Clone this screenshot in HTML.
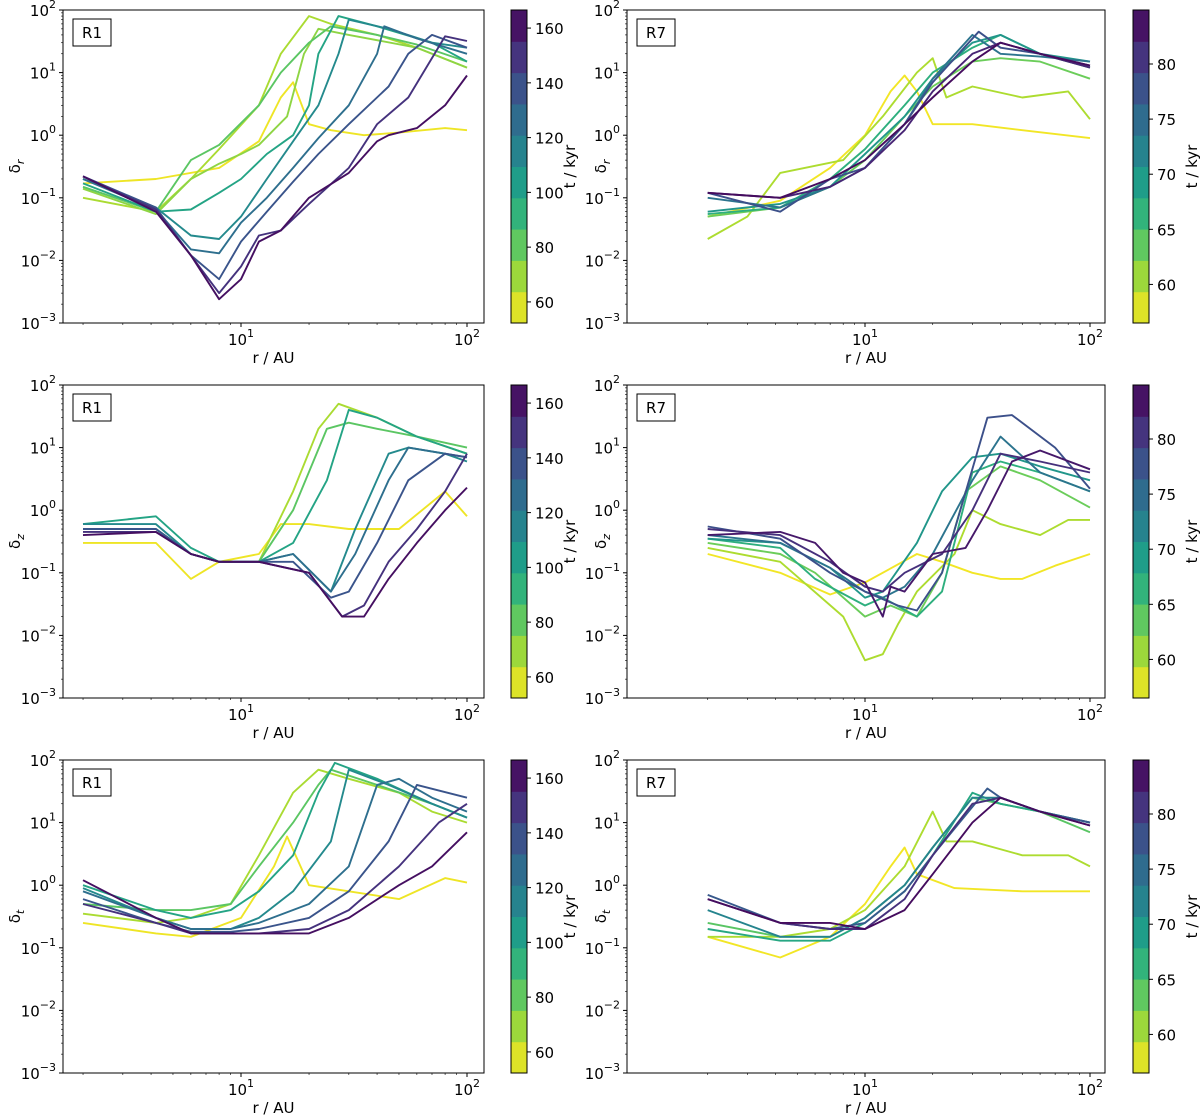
<!DOCTYPE html>
<html><head><meta charset="utf-8">
<style>
html,body{margin:0;padding:0;background:#fff;}
svg{display:block;font-family:"DejaVu Sans","Liberation Sans",sans-serif;}
</style></head>
<body>
<svg id="fig" width="1200" height="1120" viewBox="0 0 1200 1120" xmlns="http://www.w3.org/2000/svg"></svg>
<script>
// ---------- data ----------
const panelLabels = ["R1","R7","R1","R7","R1","R7"];
const yLabelSubs = ["r","r","z","z","t","t"];
const leftCbTicks = [60,80,100,120,140,160];
const rightCbTicks = [60,65,70,75,80];
const leftCbRange = [52.3,166.6];
const rightCbRange = [56.5,84.9];
const yTicks = [-3,-2,-1,0,1,2];

// panel 1: R1 delta_r
const p1 = [
 {t:55, r:[2,4.2,8,12,15,17,20,25,35,50,80,100], v:[0.17,0.2,0.3,0.8,4,7,1.5,1.2,1.0,1.1,1.3,1.2]},
 {t:67, r:[2,4.2,6,8,12,15,20,25,40,60,100], v:[0.1,0.06,0.2,0.6,3,20,80,60,40,25,12]},
 {t:72, r:[2,4.2,6,8,10,12,16,19,22,30,60,100], v:[0.14,0.055,0.2,0.35,0.5,0.7,2,20,50,40,25,12]},
 {t:82, r:[2,4.2,6,8,12,15,20,25,40,60,100], v:[0.15,0.06,0.4,0.7,3,10,30,55,40,28,15]},
 {t:100, r:[2,4.2,6,8,10,13,17,20,22,27,40,70,100], v:[0.17,0.06,0.065,0.12,0.2,0.5,1.0,3,20,80,55,30,15]},
 {t:112, r:[2,4.2,6,8,10,13,17,22,27,30,45,70,100], v:[0.2,0.07,0.025,0.022,0.05,0.2,0.8,3,20,70,50,30,25]},
 {t:125, r:[2,4.2,6,8,10,13,17,22,30,40,43,60,100], v:[0.2,0.065,0.015,0.013,0.04,0.1,0.3,0.9,3,20,55,35,20]},
 {t:137, r:[2,4.2,6,8,10,13,17,22,30,45,55,70,100], v:[0.22,0.07,0.012,0.005,0.02,0.06,0.18,0.5,1.5,6,20,40,25]},
 {t:150, r:[2,4.2,6,8,10,12,15,20,30,40,55,80,100], v:[0.22,0.065,0.012,0.003,0.008,0.025,0.03,0.08,0.3,1.5,4,38,32]},
 {t:162, r:[2,4.2,6,8,10,12,15,20,30,40,45,60,80,100], v:[0.22,0.06,0.012,0.0024,0.005,0.02,0.03,0.1,0.25,0.8,1.0,1.3,3,9]}
];
// panel 2: R7 delta_r
const p2 = [
 {t:57, r:[2,4.2,7,10,13,15,17,20,30,50,100], v:[0.05,0.09,0.3,1,5,9,5,1.5,1.5,1.2,0.9]},
 {t:60, r:[2,3,4.2,8,12,17,20,23,30,50,80,100], v:[0.022,0.05,0.25,0.4,2,10,17,4,6,4,5,1.8]},
 {t:63, r:[2,4.2,7,10,15,20,30,40,60,100], v:[0.05,0.07,0.15,0.4,2,6,15,17,15,8]},
 {t:67, r:[2,4.2,7,10,15,20,30,40,60,100], v:[0.055,0.07,0.2,0.6,3,10,25,40,20,12]},
 {t:70, r:[2,4.2,7,10,15,20,30,40,60,100], v:[0.06,0.08,0.15,0.5,2,8,30,40,20,15]},
 {t:74, r:[2,4.2,7,10,15,20,30,40,60,100], v:[0.1,0.07,0.15,0.3,1.5,8,40,20,18,15]},
 {t:78, r:[2,4.2,7,10,15,20,32,40,60,100], v:[0.12,0.06,0.2,0.3,1.5,7,45,25,20,13]},
 {t:82, r:[2,4.2,7,10,15,20,30,40,60,100], v:[0.12,0.1,0.15,0.3,1.2,5,20,30,20,12]},
 {t:84, r:[2,4.2,7,10,15,20,30,40,60,100], v:[0.12,0.1,0.2,0.4,1.5,4,15,30,20,13]}
];
// panel 3: R1 delta_z
const p3 = [
 {t:55, r:[2,4.2,6,8,12,15,20,30,50,80,100], v:[0.3,0.3,0.08,0.15,0.2,0.6,0.6,0.5,0.5,2,0.8]},
 {t:67, r:[2,4.2,6,8,12,17,22,27,40,60,100], v:[0.5,0.5,0.2,0.15,0.15,2,20,50,30,15,8]},
 {t:82, r:[2,4.2,6,8,12,17,24,30,40,60,100], v:[0.5,0.5,0.2,0.15,0.15,1,20,25,20,15,10]},
 {t:100, r:[2,4.2,6,8,12,17,24,30,40,60,100], v:[0.6,0.8,0.25,0.15,0.15,0.3,3,40,30,15,8]},
 {t:112, r:[2,4.2,6,8,12,17,25,32,45,55,80,100], v:[0.6,0.6,0.2,0.15,0.15,0.2,0.05,0.5,8,10,8,6]},
 {t:125, r:[2,4.2,6,8,12,17,25,32,45,55,80,100], v:[0.5,0.5,0.2,0.15,0.15,0.2,0.05,0.2,3,10,8,7]},
 {t:137, r:[2,4.2,6,8,12,17,25,30,40,55,80,100], v:[0.5,0.5,0.2,0.15,0.15,0.15,0.04,0.05,0.3,3,8,7]},
 {t:150, r:[2,4.2,6,8,12,20,28,35,45,60,80,100], v:[0.45,0.45,0.2,0.15,0.15,0.1,0.02,0.03,0.15,0.5,2,8]},
 {t:162, r:[2,4.2,6,8,12,20,28,35,45,60,80,100], v:[0.4,0.45,0.2,0.15,0.15,0.1,0.02,0.02,0.08,0.3,1,2.3]}
];
// panel 4: R7 delta_z
const p4 = [
 {t:57, r:[2,4.2,7,10,17,22,30,40,50,70,100], v:[0.2,0.1,0.045,0.07,0.2,0.15,0.1,0.08,0.08,0.13,0.2]},
 {t:60, r:[2,4.2,8,10,12,14,17,25,30,40,60,80,100], v:[0.25,0.15,0.02,0.004,0.005,0.015,0.05,0.2,1,0.6,0.4,0.7,0.7]},
 {t:63, r:[2,4.2,6,10,13,17,22,28,40,60,100], v:[0.3,0.2,0.1,0.02,0.03,0.02,0.1,2,5,3,1.1]},
 {t:67, r:[2,4.2,6,10,12,17,22,30,40,60,100], v:[0.35,0.25,0.08,0.03,0.04,0.02,0.05,4,6,4,2]},
 {t:70, r:[2,4.2,7,10,12,17,22,30,40,60,100], v:[0.35,0.3,0.12,0.04,0.05,0.3,2,7,8,5,3]},
 {t:74, r:[2,4.2,7,10,12,15,20,30,40,60,100], v:[0.4,0.3,0.12,0.05,0.04,0.06,0.2,3,15,4,2]},
 {t:78, r:[2,4.2,7,10,14,17,22,35,45,70,100], v:[0.55,0.35,0.1,0.05,0.03,0.025,0.1,30,33,10,2.2]},
 {t:81, r:[2,4.2,7,10,12,15,22,30,40,60,100], v:[0.5,0.4,0.15,0.06,0.05,0.1,0.2,1,8,6,4]},
 {t:83, r:[2,4.2,6,8,10,12,13,15,20,28,35,45,60,100], v:[0.4,0.45,0.3,0.1,0.07,0.02,0.06,0.05,0.2,0.25,1,6,9,4.5]}
];
// panel 5: R1 delta_t
const p5 = [
 {t:55, r:[2,4.2,6,10,14,16,20,30,50,80,100], v:[0.25,0.17,0.15,0.3,2,6,1,0.8,0.6,1.3,1.1]},
 {t:67, r:[2,4.2,6,9,12,17,22,30,50,70,100], v:[0.35,0.25,0.3,0.5,3,30,70,50,30,15,10]},
 {t:82, r:[2,4.2,6,9,12,17,22,25,40,70,100], v:[0.5,0.4,0.4,0.5,2,10,40,70,40,20,12]},
 {t:100, r:[2,4.2,6,9,12,17,22,26,40,70,100], v:[1,0.4,0.3,0.4,0.8,3,30,90,50,20,12]},
 {t:112, r:[2,4.2,6,9,12,17,25,30,45,70,100], v:[0.9,0.3,0.2,0.2,0.3,0.8,5,70,40,20,12]},
 {t:125, r:[2,4.2,6,9,12,20,30,40,50,70,100], v:[0.8,0.3,0.2,0.2,0.25,0.5,2,40,50,25,15]},
 {t:137, r:[2,4.2,6,9,12,20,30,45,60,100], v:[0.6,0.25,0.18,0.18,0.2,0.3,0.8,5,40,25]},
 {t:150, r:[2,4.2,6,9,12,20,30,50,75,100], v:[0.5,0.25,0.17,0.17,0.17,0.2,0.4,2,10,20]},
 {t:162, r:[2,4.2,6,9,12,20,30,50,70,100], v:[1.2,0.3,0.17,0.17,0.17,0.17,0.3,1,2,7]}
];
// panel 6: R7 delta_t
const p6 = [
 {t:57, r:[2,4.2,7,10,13,15,17,25,50,100], v:[0.15,0.07,0.15,0.5,2,4,1.5,0.9,0.8,0.8]},
 {t:60, r:[2,4.2,7,10,15,20,23,30,50,80,100], v:[0.15,0.15,0.2,0.4,2,15,5,5,3,3,2]},
 {t:64, r:[2,4.2,7,10,15,20,30,40,60,100], v:[0.25,0.15,0.15,0.3,1,4,25,20,15,7]},
 {t:68, r:[2,4.2,7,10,15,20,30,40,60,100], v:[0.2,0.13,0.13,0.25,0.8,3,30,20,15,10]},
 {t:72, r:[2,4.2,7,10,15,20,30,40,60,100], v:[0.4,0.15,0.15,0.3,1,4,25,25,15,10]},
 {t:77, r:[2,4.2,7,10,15,20,35,40,60,100], v:[0.7,0.25,0.2,0.25,0.8,3,35,25,15,10]},
 {t:81, r:[2,4.2,7,10,15,20,30,40,60,100], v:[0.6,0.25,0.2,0.2,0.6,3,20,25,15,9]},
 {t:84, r:[2,4.2,7,10,15,20,30,40,60,100], v:[0.6,0.25,0.25,0.2,0.4,1.5,10,25,15,9]}
];
const panelData = [p1,p2,p3,p4,p5,p6];

// ---------- rendering ----------
const NS = "http://www.w3.org/2000/svg";
const svg = document.getElementById('fig');
function mk(tag, attrs, parent){
  const e = document.createElementNS(NS, tag);
  for (const k in attrs) e.setAttribute(k, attrs[k]);
  (parent||svg).appendChild(e);
  return e;
}
const VIR = [[68,1,84],[72,40,120],[62,74,137],[49,104,142],[38,130,142],[31,158,137],[53,183,121],[110,206,88],[181,222,43],[253,231,37]];
function viridis(f){
  f=Math.max(0,Math.min(1,f));
  const p=f*(VIR.length-1), i=Math.min(VIR.length-2,Math.floor(p)), u=p-i;
  const c=VIR[i].map((a,k)=>Math.round(a+(VIR[i+1][k]-a)*u));
  return `rgb(${c[0]},${c[1]},${c[2]})`;
}
const cols = [
  {x0:63, x1:484, x10:241, dec:226, cbx:511, cbTicks:leftCbTicks, cbRange:leftCbRange, ylx:20},
  {x0:627, x1:1105, x10:865, dec:225, cbx:1133, cbTicks:rightCbTicks, cbRange:rightCbRange, ylx:606}
];
const rowsTop = [10,385,760];
const H = 313;

panelData.forEach((series, pi)=>{
  const c = cols[pi%2], top = rowsTop[Math.floor(pi/2)], bot = top+H;
  const xs = r => c.x10 + (Math.log10(r)-1)*c.dec;
  const ys = v => bot - (Math.log10(v)+3)/5*H;
  const g = mk('g', {});
  
  
  const clipId = 'clip'+pi;
  const cp = mk('clipPath', {id:clipId}, g);
  mk('rect', {x:c.x0, y:top, width:c.x1-c.x0, height:H}, cp);
  const lg = mk('g', {'clip-path':`url(#${clipId})`}, g);
  
  
  series.forEach((s, si)=>{
    const f = (s.t - c.cbRange[0])/(c.cbRange[1]-c.cbRange[0]);
    const d = s.r.map((r,i)=>(i?'L':'M')+xs(r).toFixed(1)+','+ys(s.v[i]).toFixed(1)).join(' ');
    const p = mk('path', {d, fill:'none', stroke:viridis(1-f), 'stroke-width':1.9, 'stroke-linejoin':'round'}, lg);
    
    
  });
  const fr = mk('rect', {x:c.x0, y:top, width:c.x1-c.x0, height:H, fill:'none', stroke:'#000', 'stroke-width':1}, g);
  
  
  yTicks.forEach(e=>{
    const y = bot - (e+3)/5*H;
    mk('line', {x1:c.x0-4, x2:c.x0, y1:y, y2:y, stroke:'#000'}, g);
    const t = mk('text', {x:c.x0-7, y:y+6, 'font-size':15, 'text-anchor':'end'}, g);
    
    
    t.innerHTML = `10<tspan dy="-8" font-size="11">${e<0?'\u2212'+(-e):e}</tspan>`;
    if (e<2) for (let m=2;m<10;m++){
      const ym = bot - (e+Math.log10(m)+3)/5*H;
      mk('line', {x1:c.x0-2, x2:c.x0, y1:ym, y2:ym, stroke:'#000', 'stroke-width':0.6}, g);
    }
  });
  [1,2].forEach(e=>{
    const x = xs(Math.pow(10,e));
    mk('line', {x1:x, x2:x, y1:bot, y2:bot+4, stroke:'#000'}, g);
    const t = mk('text', {x:x, y:bot+22, 'font-size':15, 'text-anchor':'middle'}, g);
    
    
    t.innerHTML = `10<tspan dy="-8" font-size="11">${e}</tspan>`;
  });
  [1,10,100].forEach(base=>{
    for (let m=2;m<10;m++){
      const x = xs(base*m);
      if (x < c.x0 || x > c.x1) continue;
      mk('line', {x1:x, x2:x, y1:bot, y2:bot+2, stroke:'#000', 'stroke-width':0.6}, g);
    }
  });
  const xl = mk('text', {x:(c.x0+c.x1)/2, y:bot+40, 'font-size':15, 'text-anchor':'middle'}, g);
  
  
  xl.textContent = 'r / AU';
  const yl = mk('text', {x:0, y:0, 'font-size':15, 'text-anchor':'middle', transform:`translate(${c.ylx},${top+H/2}) rotate(-90)`}, g);
  
  
  yl.innerHTML = `δ<tspan dy="4" font-size="11" font-style="italic">${yLabelSubs[pi]}</tspan>`;
  const lb = mk('rect', {x:c.x0+10, y:top+9, width:38, height:27, fill:'#fff', stroke:'#000', 'stroke-width':1}, g);
  
  
  const lt = mk('text', {x:c.x0+29, y:top+28, 'font-size':15, 'text-anchor':'middle'}, g);
  
  
  lt.textContent = panelLabels[pi];
  const cb = mk('g', {}, g);
  
  
  const nb = 10, bh = H/nb;
  for (let i=0;i<nb;i++){
    mk('rect', {x:c.cbx, y:bot-(i+1)*bh, width:16, height:bh+0.5, fill:viridis(1-(i+0.5)/nb)}, cb);
  }
  mk('rect', {x:c.cbx, y:top, width:16, height:H, fill:'none', stroke:'#000'}, cb);
  c.cbTicks.forEach(tv=>{
    const y = bot - (tv-c.cbRange[0])/(c.cbRange[1]-c.cbRange[0])*H;
    mk('line', {x1:c.cbx+16, x2:c.cbx+20, y1:y, y2:y, stroke:'#000'}, cb);
    const t = mk('text', {x:c.cbx+24, y:y+6, 'font-size':15}, cb);
    
    
    t.textContent = tv;
  });
  const ct = mk('text', {x:0,y:0,'font-size':15,'text-anchor':'middle', transform:`translate(${c.cbx+64},${top+H/2}) rotate(-90)`}, cb);
  
  
  ct.textContent = 't / kyr';
});
</script>
</body></html>
